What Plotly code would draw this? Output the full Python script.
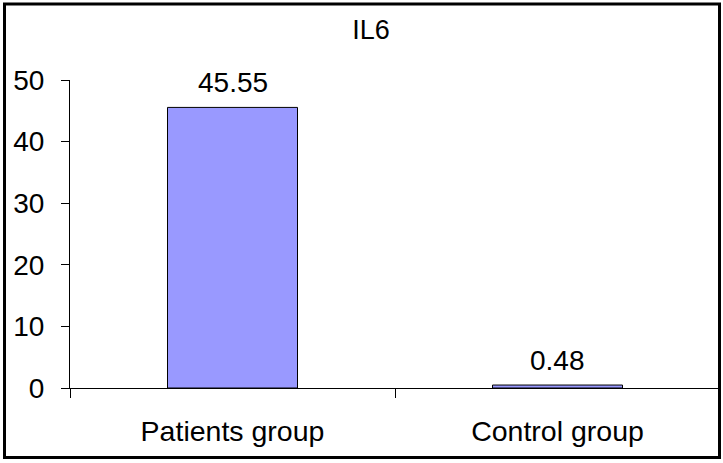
import plotly.graph_objects as go

categories = ["Patients group", "Control group"]
values = [45.55, 0.48]
value_labels = ["45.55", "0.48"]
title_text = "IL6"
y_ticks = [0, 10, 20, 30, 40, 50]

FONT = "Liberation Sans, Arial, sans-serif"

fig = go.Figure()
fig.add_trace(go.Bar(
    x=categories,
    y=values,
    marker=dict(color="#9999FF", line=dict(color="black", width=1)),
    width=0.4,
    showlegend=False,
    hoverinfo="x+y",
))

for cat, val, lab in zip(categories, values, value_labels):
    fig.add_annotation(x=cat, y=val, text=lab, showarrow=False,
                       yanchor="bottom", yshift=7,
                       font=dict(family=FONT, size=28, color="black"))

fig.update_layout(
    width=723, height=463,
    margin=dict(l=70, r=3, t=80, b=75),
    paper_bgcolor="white",
    plot_bgcolor="white",
    font=dict(family=FONT, size=28, color="black"),
    title=dict(text=title_text, x=0.513, xref="container", xanchor="center",
               y=1 - 30 / 463, yref="container", yanchor="middle",
               font=dict(family=FONT, size=27, color="black")),
    xaxis=dict(
        showline=True, linecolor="black", linewidth=1,
        ticks="outside", tickson="boundaries", ticklen=9, tickcolor="black",
        tickwidth=1, showgrid=False, zeroline=False,
        tickfont=dict(family=FONT, size=28.5, color="black"),
        ticklabelstandoff=18,
    ),
    yaxis=dict(
        range=[0, 50], tickvals=y_ticks, showline=True, linecolor="black",
        linewidth=1, ticks="outside", ticklen=8, tickcolor="black", tickwidth=1,
        showgrid=False, zeroline=False,
        tickfont=dict(family=FONT, size=28, color="black"),
        ticklabelstandoff=11,
    ),
    bargap=0.6,
)

# outer frame around the whole chart
fig.add_shape(type="rect", xref="paper", yref="paper",
              x0=(4.5 - 70) / 650, x1=(719.5 - 70) / 650,
              y0=(388 - 457.5) / 308, y1=(388 - 4) / 308,
              line=dict(color="black", width=3), fillcolor="rgba(0,0,0,0)",
              layer="above")

fig.write_html("out.html",
               config={"displayModeBar": False},
               post_script="document.body.style.margin='0';document.body.style.overflow='hidden';")
